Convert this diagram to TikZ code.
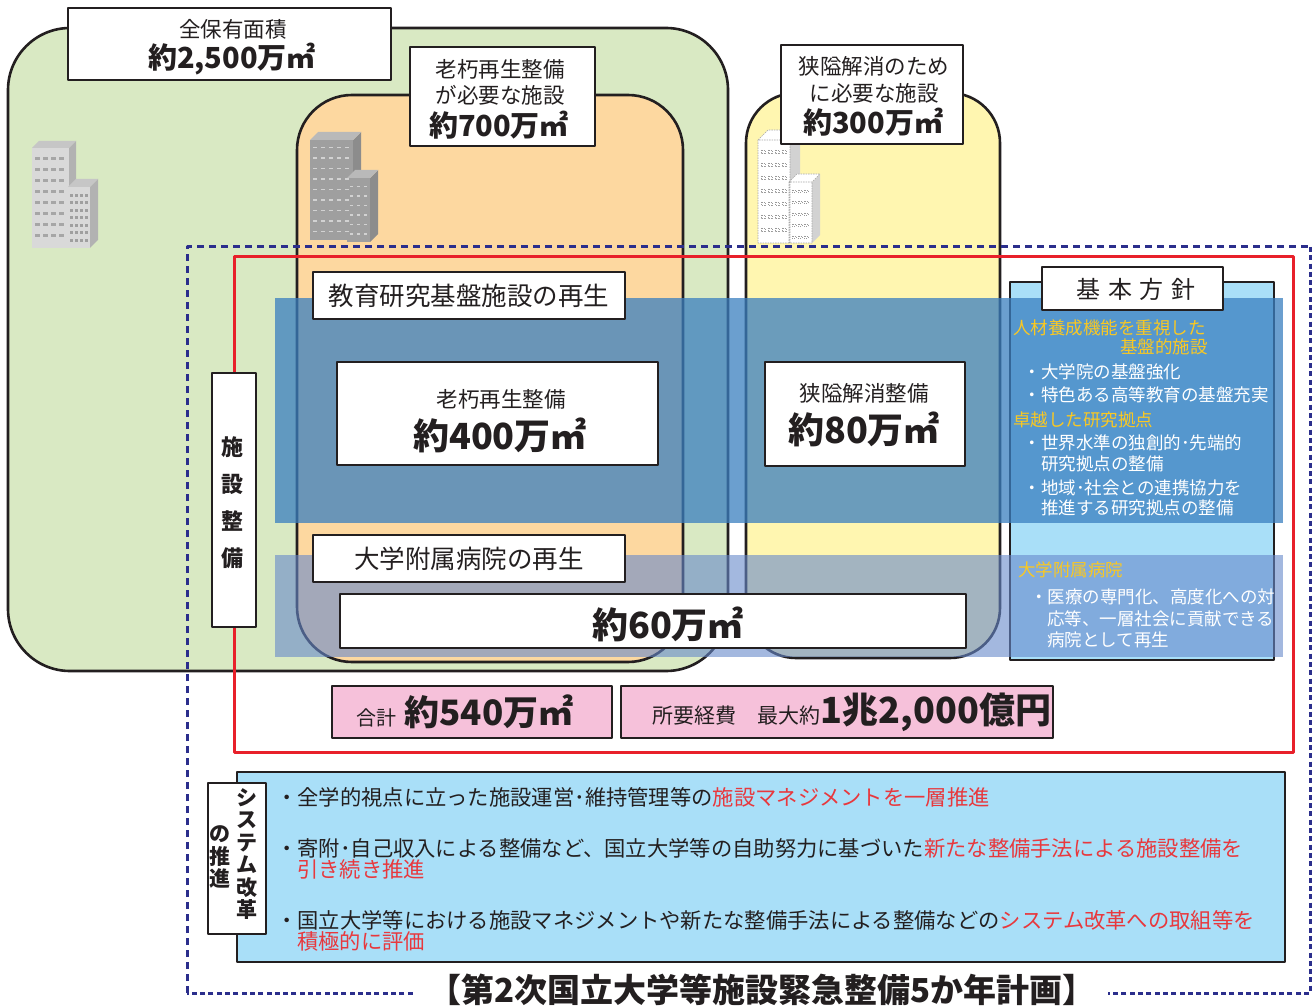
\documentclass[tikz,border=0pt]{standalone}
\usepackage{fontspec}
\setmainfont{Noto Sans CJK JP}
\newcommand\fsz[2]{\fontsize{#1}{#2}\selectfont}

\definecolor{areagreen}{HTML}{D9E9C3}
\definecolor{areaorange}{HTML}{FDD8A0}
\definecolor{areayellow}{HTML}{FFF6B0}
\definecolor{policyblue}{HTML}{A9DFF8}
\definecolor{bandblue}{RGB}{58,127,192}
\definecolor{bandpale}{RGB}{103,137,203}
\definecolor{planred}{HTML}{E8202A}
\definecolor{plannavy}{HTML}{2B2E8C}
\definecolor{headgold}{HTML}{F9C823}
\definecolor{totalpink}{HTML}{F6C1DA}
\definecolor{inkgray}{HTML}{231F20}
\definecolor{notered}{HTML}{E8383D}

\begin{document}
\begin{tikzpicture}[x=1pt, y=-1pt, line join=round,
  every node/.style={inner sep=0pt, text=inkgray},
  area/.style={draw=inkgray, line width=2.6pt, rounded corners=55pt},
  whitebox/.style={draw=inkgray, fill=white, line width=2.9pt},
  areatext/.style={font=\fsz{21.5}{26}},
  areafig/.style={font=\fsz{29}{34}\bfseries},
  bigfig/.style={font=\fsz{36}{40}\bfseries},
  heading/.style={font=\fsz{25.5}{30}},
  aimtext/.style={font=\fsz{17.5}{21}, anchor=west},
  notetext/.style={font=\fsz{21.3}{25}, anchor=west},
  vtext/.style={font=\fsz{21}{22.4}\bfseries, align=center}]

  \path[use as bounding box, fill=white] (0,0) rectangle (1315,1008);

  % Draw areas
  \draw[area, fill=areagreen, rounded corners=62pt] (8,28) rectangle (728,671);
  \draw[area, fill=areaorange] (297,95) rectangle (683,662);
  \draw[area, fill=areayellow, rounded corners=50pt] (746,93) rectangle (1000,658);

  % Draw buildings
  \foreach \l/\t/\r/\b/\d/\front/\side/\top in {
      32/148/69/248/7/gray!30/gray!60/gray!45,
      68/187/90/248/8/gray!30/gray!60/gray!45,
      310/140/353/240/8/gray!75/gray!90/gray!55,
      347/178/370/242/8/gray!75/gray!90/gray!55,
      758/140/790/243/10/white/gray!35/white,
      789/182/812/243/8/white/gray!35/white}{%
    \fill[fill=\front] (\l,\t) rectangle (\r,\b);
    \fill[fill=\side] (\r,\t) -- (\r+\d,\t-\d) -- (\r+\d,\b-\d) -- (\r,\b) -- cycle;
    \fill[fill=\top] (\l,\t) -- (\l+\d,\t-\d) -- (\r+\d,\t-\d) -- (\r,\t) -- cycle;
  }
  \foreach \i in {0,...,3} \foreach \j in {0,...,7}
    \fill[gray!70] (35+8*\i,157+11*\j) rectangle +(5,3);
  \foreach \i in {0,...,3} \foreach \j in {0,...,6}
    \fill[gray!75] (70+5*\i,194+7.5*\j) rectangle +(3,3);
  \foreach \i in {0,...,4} \foreach \j in {0,...,8}
    \fill[gray!35] (313+8*\i,147+10.5*\j) rectangle +(4,1.5);
  \foreach \i in {0,...,2} \foreach \j in {0,...,5}
    \fill[gray!35] (350+7*\i,186+9.5*\j) rectangle +(3,1.5);
  \draw[gray!70, line width=0.6pt, dash pattern=on 1.5pt off 1pt]
    (758,140) rectangle (790,243) (789,182) rectangle (812,243)
    (758,140) -- (768,130) -- (800,130) -- (790,140)
    (789,182) -- (797,174) -- (820,174) -- (812,182);
  \foreach \i in {0,...,3} \foreach \j in {0,...,6}
    \draw[gray!80, line width=0.5pt, dash pattern=on 1pt off 1pt] (761+7*\i,150+13*\j) rectangle +(4,3);
  \foreach \i in {0,...,2} \foreach \j in {0,...,4}
    \draw[gray!80, line width=0.5pt, dash pattern=on 1pt off 1pt] (792+6*\i,190+11.5*\j) rectangle +(4,2);

  % Area labels
  \node[whitebox, minimum width=323pt, minimum height=72pt] (allbox) at (229.5,44) {};
  \node[areatext] (alltitle) at (233,29) {全保有面積};
  \node[areafig] (allarea) at (232,59) {約2,500万㎡};

  \node[whitebox, minimum width=185pt, minimum height=99pt] (agedbox) at (502.5,96.5) {};
  \node[areatext] (agedtitle) at (500,69) {老朽再生整備};
  \node[areatext] (agedtitleb) at (500,95) {が必要な施設};
  \node[areafig] (agedarea) at (499,125) {約700万㎡};

  \node[whitebox, minimum width=182pt, minimum height=99pt] (narrowbox) at (872,94.5) {};
  \node[areatext] (narrowtitle) at (874,66) {狭隘解消のため};
  \node[areatext] (narrowtitleb) at (874,93) {に必要な施設};
  \node[areafig] (narrowarea) at (873,122) {約300万㎡};

  % Plan frame
  \draw[plannavy, line width=3pt, dash pattern=on 7pt off 5pt] (187,993) -- (187,247) -- (1310,247);
  \draw[plannavy, line width=3pt, dash pattern=on 5pt off 3.3pt] (1310,247) -- (1310,993) -- (187,993);
  \draw[planred, line width=3pt] (234,257) rectangle (1293,752);

  % Policy panel
  \draw[fill=policyblue, draw=inkgray, line width=2.9pt] (1010,282) rectangle (1274,660);

  % Bands
  \fill[bandblue, fill opacity=0.75] (275,298) rectangle (1283,523);
  \fill[bandpale, fill opacity=0.6] (275,555) rectangle (1283,657);

  % Band boxes
  \node[whitebox, heading, minimum width=312pt, minimum height=47pt] (renewal) at (469,295.5) {教育研究基盤施設の再生};
  \node[whitebox, minimum width=321pt, minimum height=103pt] (oldbox) at (497.5,413.5) {};
  \node[areatext] (oldtitle) at (501,399) {老朽再生整備};
  \node[bigfig] (oldarea) at (500,435) {約400万㎡};

  \node[whitebox, minimum width=200pt, minimum height=104pt] (tightbox) at (865,414) {};
  \node[areatext] (tighttitle) at (864,393.5) {狭隘解消整備};
  \node[bigfig] (tightarea) at (864,429) {約80万㎡};

  \node[whitebox, heading, minimum width=312pt, minimum height=47pt] (hospital) at (469,558.5) {大学附属病院の再生};
  \node[whitebox, minimum width=626pt, minimum height=54pt] (hospbox) at (653,621) {};
  \node[bigfig] (hosparea) at (668,624) {約60万㎡};

  \node[whitebox, minimum width=44pt, minimum height=254pt] (facility) at (234,500) {};
  \node[font=\fsz{22}{37}\bfseries, align=center] (facilitytxt) at (232,503) {施\\設\\整\\備};

  % Policy texts
  \node[whitebox, minimum width=181pt, minimum height=43pt] (policy) at (1132.5,288.5) {};
  \node[font=\fsz{24}{28}] (policytxt) at (1136,289) {基\hspace{7.5pt}本\hspace{7.5pt}方\hspace{7.5pt}針};
  \foreach \x/\y/\c/\t in {
      1013/328/headgold/人材養成機能を重視した,
      1120/347/headgold/基盤的施設,
      1023.5/372/white/・大学院の基盤強化,
      1023.5/395/white/・特色ある高等教育の基盤充実,
      1013/420/headgold/卓越した研究拠点,
      1023.5/443/white/・世界水準の独創的･先端的,
      1041/464/white/研究拠点の整備,
      1023.5/488/white/・地域･社会との連携協力を,
      1041/508/white/推進する研究拠点の整備,
      1018/570/headgold/大学附属病院,
      1030/597/white/・医療の専門化、高度化への対,
      1047/619/white/応等、一層社会に貢献できる,
      1047/640/white/病院として再生}
    \node[aimtext, text=\c] (aim-\y) at (\x,\y) {\t};

  % Totals
  \node[whitebox, fill=totalpink, minimum width=280pt, minimum height=52pt] (sumbox) at (472,712) {};
  \node (sumtxt) at (465,712) {{\fsz{20}{24}合計}\hspace{8pt}{\fsz{35}{40}\bfseries 約540万㎡}};
  \node[whitebox, fill=totalpink, minimum width=432pt, minimum height=52pt] (costbox) at (837,712) {};
  \node (costtxt) at (852,712) {{\fsz{21}{25}所要経費\hspace{1em}最大約}{\fsz{36}{40}\bfseries 1兆2,000億円}};

  % System reform
  \node[whitebox, fill=policyblue, minimum width=1048pt, minimum height=190pt] (reformbox) at (761,867) {};
  \node[whitebox, minimum width=58pt, minimum height=151pt] (reform) at (237,858.5) {};
  \node[vtext] (reforma) at (247,854) {シ\\ス\\テ\\ム\\改\\革};
  \node[vtext] (reformb) at (220,857) {の\\推\\進};
  \node[notetext] (notea) at (276,797) {・全学的視点に立った施設運営･維持管理等の\textcolor{notered}{施設マネジメントを一層推進}};
  \node[notetext] (noteb) at (276,848) {・寄附･自己収入による整備など、国立大学等の自助努力に基づいた\textcolor{notered}{新たな整備手法による施設整備を}};
  \node[notetext, text=notered] (notebb) at (297,869) {引き続き推進};
  \node[notetext] (notec) at (276,920) {・国立大学等における施設マネジメントや新たな整備手法による整備などの\textcolor{notered}{システム改革への取組等を}};
  \node[notetext, text=notered] (notecc) at (297,941) {積極的に評価};

  % Plan title
  \node[fill=white, inner xsep=12pt, inner ysep=1pt, font=\fsz{33}{36}\bfseries] (plan) at (762,990) {【第2次国立大学等施設緊急整備5か年計画】};

\end{tikzpicture}
\end{document}
